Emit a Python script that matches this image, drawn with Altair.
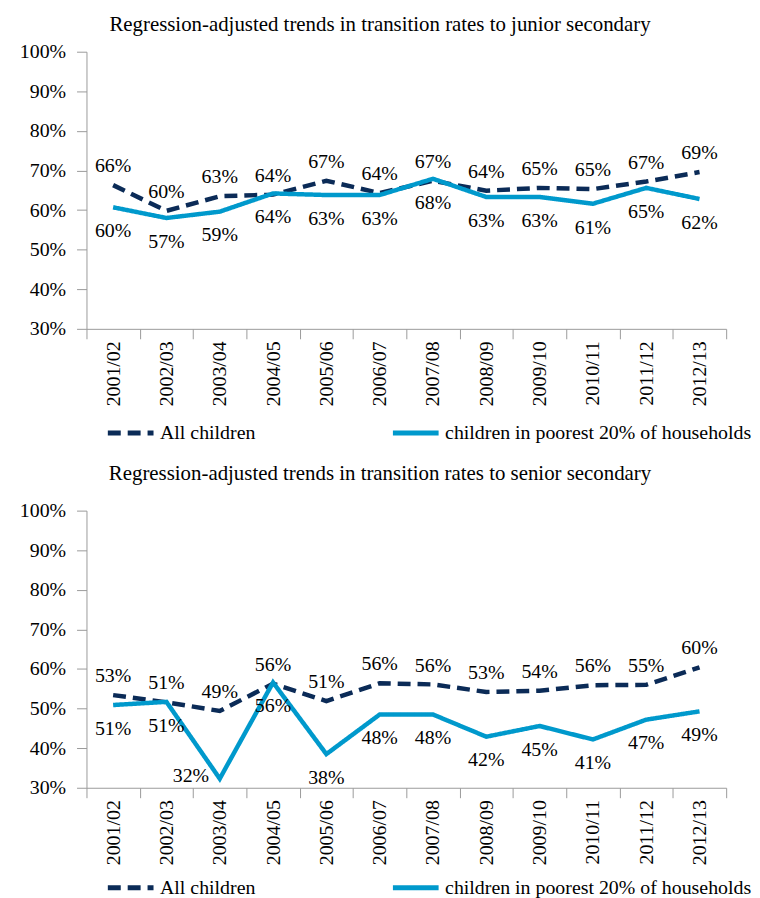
import altair as alt
import pandas as pd

periods = ["2001/02", "2002/03", "2003/04", "2004/05", "2005/06", "2006/07",
           "2007/08", "2008/09", "2009/10", "2010/11", "2011/12", "2012/13"]
series_names = ["All children", "children in poorest 20% of households"]

junior_all = [66.3, 59.8, 63.5, 63.9, 67.4, 64.3, 67.4, 64.9, 65.6, 65.3, 67.2, 69.6]
junior_all_labels = [66, 60, 63, 64, 67, 64, 67, 64, 65, 65, 67, 69]
junior_poor = [60.7, 58.0, 59.6, 64.2, 63.8, 63.8, 67.9, 63.3, 63.3, 61.6, 65.6, 62.8]
junior_poor_labels = [60, 57, 59, 64, 63, 63, 68, 63, 63, 61, 65, 62]

senior_all = [53.4, 51.6, 49.4, 56.3, 51.9, 56.4, 56.1, 54.2, 54.5, 55.9, 56.0, 60.4]
senior_all_labels = [53, 51, 49, 56, 51, 56, 56, 53, 54, 56, 55, 60]
senior_poor = [50.9, 51.7, 32.3, 56.6, 38.5, 48.5, 48.5, 42.9, 45.6, 42.2, 47.2, 49.3]
senior_poor_labels = [51, 51, 32, 56, 38, 48, 48, 42, 45, 41, 47, 49]

y_ticks = [0.3, 0.4, 0.5, 0.6, 0.7, 0.8, 0.9, 1.0]

NAVY = "#0b2b57"
BLUE = "#0099cc"
FONT = "Liberation Serif"
GREY = "#9a9a9a"
LOW = 0.35  # labels of points this close to the axis floor sit beside the point


def make_df(all_vals, all_labels, poor_vals, poor_labels):
    rows = []
    for p, v, l in zip(periods, all_vals, all_labels):
        rows.append({"period": p, "series": series_names[0], "value": v / 100, "label": f"{l}%"})
    for p, v, l in zip(periods, poor_vals, poor_labels):
        rows.append({"period": p, "series": series_names[1], "value": v / 100, "label": f"{l}%"})
    return pd.DataFrame(rows)


def panel(df, title, title_offset, legend_y):
    legend = alt.Legend(
        title=None, orient="none", legendX=19, legendY=legend_y, direction="horizontal",
        columns=2, columnPadding=127, symbolType="stroke", symbolSize=2116,
        symbolStrokeWidth=5, labelFont=FONT, labelFontSize=20, labelColor="black",
        labelOffset=4, labelLimit=400,
    )
    x = alt.X("period:O", sort=periods,
              scale=alt.Scale(type="band", paddingInner=0, paddingOuter=0),
              axis=alt.Axis(title=None, labelAngle=-90, tickBand="extent", tickSize=10,
                            labelPadding=2, labelFont=FONT, labelFontSize=20,
                            labelColor="black", domainColor=GREY, tickColor=GREY,
                            labelOverlap=False))
    y = alt.Y("value:Q", scale=alt.Scale(domain=[0.3, 1.0], nice=False),
              axis=alt.Axis(title=None, values=y_ticks, format=".0%", tickSize=10,
                            labelPadding=11, labelFont=FONT, labelFontSize=20,
                            labelColor="black", domainColor=GREY, tickColor=GREY,
                            grid=False, minExtent=79, maxExtent=79,
                            labelOverlap=False, labelFlush=False))
    base = alt.Chart(df)
    lines = base.mark_line(strokeWidth=4.5, strokeCap="butt").encode(
        x=x, y=y,
        color=alt.Color("series:N", scale=alt.Scale(domain=series_names, range=[NAVY, BLUE]),
                        legend=legend),
        strokeDash=alt.StrokeDash("series:N",
                                  scale=alt.Scale(domain=series_names, range=[[13, 7], [1, 0]]),
                                  legend=legend),
    )
    above = base.transform_filter(alt.datum.series == series_names[0]).mark_text(
        font=FONT, fontSize=20, color="black", dy=-19, baseline="middle"
    ).encode(x=x, y=y, text="label:N")
    below = base.transform_filter(
        (alt.datum.series == series_names[1]) & (alt.datum.value >= LOW)
    ).mark_text(
        font=FONT, fontSize=20, color="black", dy=24, baseline="middle"
    ).encode(x=x, y=y, text="label:N")
    beside = base.transform_filter(
        (alt.datum.series == series_names[1]) & (alt.datum.value < LOW)
    ).mark_text(
        font=FONT, fontSize=20, color="black", dx=-29, dy=-3, baseline="middle"
    ).encode(x=x, y=y, text="label:N")
    return alt.layer(lines, above, below, beside).properties(
        width=644, height=279,
        title=alt.TitleParams(title, font=FONT, fontSize=21, fontWeight="normal",
                              color="black", anchor="middle", frame="bounds",
                              offset=title_offset),
    )


top = panel(make_df(junior_all, junior_all_labels, junior_poor, junior_poor_labels),
            "Regression-adjusted trends in transition rates to junior secondary", 7, 358)
bottom = panel(make_df(senior_all, senior_all_labels, senior_poor, senior_poor_labels),
               "Regression-adjusted trends in transition rates to senior secondary", 17, 354)

chart = alt.vconcat(top, bottom, spacing=20).resolve_legend(
    color="independent", strokeDash="independent"
).resolve_scale(color="independent", strokeDash="independent").properties(
    padding={"left": 0, "top": 3, "right": 0, "bottom": 0}
).configure_view(stroke=None)

chart.save("out.html", embed_options={"renderer": "svg", "actions": False})
